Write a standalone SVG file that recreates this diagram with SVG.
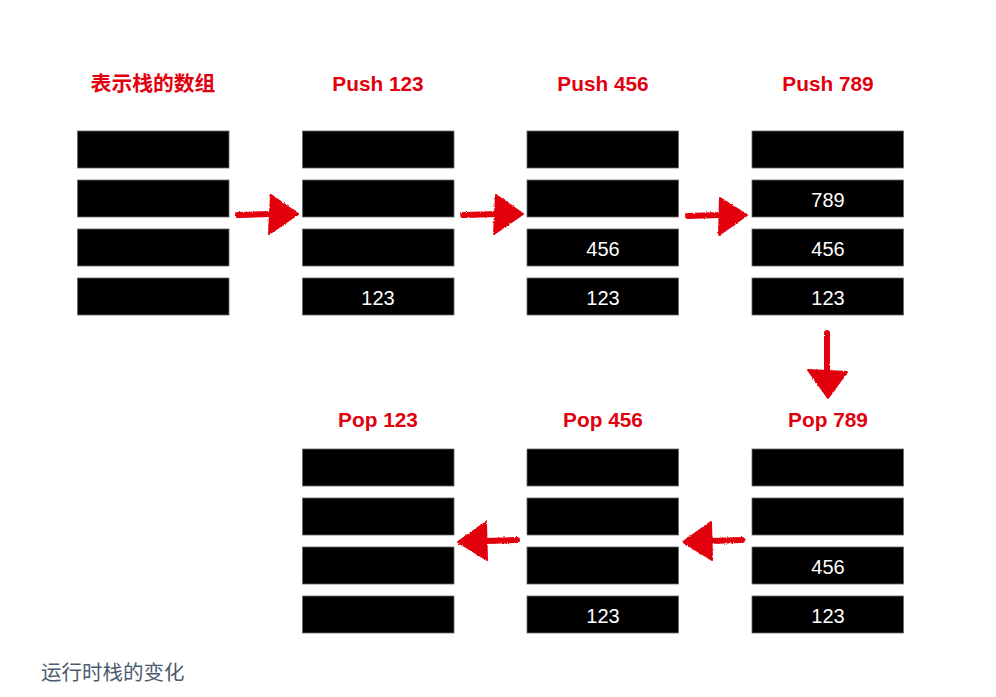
<svg xmlns="http://www.w3.org/2000/svg" width="996" height="697" viewBox="0 0 996 697">
<defs>
<style>
.cell{fill:#000;stroke:#6a6a6a;stroke-width:0.8}
.val{font-family:"Liberation Sans",Arial,sans-serif;font-size:20px;fill:#fff;text-anchor:middle}
.title{font-family:"Liberation Sans","Noto Sans CJK SC",sans-serif;font-size:20.8px;font-weight:bold;fill:#e2000f;text-anchor:middle}
.cap{font-family:"Noto Sans CJK SC","Liberation Sans",sans-serif;font-size:20.5px;fill:#4b5c70}
.arrow{fill:#e2000f;stroke:#e2000f;stroke-linejoin:round}
.shaft{fill:none;stroke:#e2000f;stroke-width:6;stroke-linecap:round}
</style>
<filter id="crayon" x="-20%" y="-20%" width="140%" height="140%">
<feTurbulence type="fractalNoise" baseFrequency="0.9" numOctaves="2" seed="3" result="n"/>
<feDisplacementMap in="SourceGraphic" in2="n" scale="2.5" xChannelSelector="R" yChannelSelector="G"/>
</filter>
</defs>
<rect width="996" height="697" fill="#fff"/>

<g id="stack-array">
<text class="title" x="153" y="91">表示栈的数组</text>
<rect class="cell" x="77.5" y="131" width="151.5" height="37"/>
<rect class="cell" x="77.5" y="180" width="151.5" height="37"/>
<rect class="cell" x="77.5" y="229" width="151.5" height="37"/>
<rect class="cell" x="77.5" y="278" width="151.5" height="37"/>
</g>

<g id="push-123">
<text class="title" x="378" y="91">Push 123</text>
<rect class="cell" x="302.5" y="131" width="151.5" height="37"/>
<rect class="cell" x="302.5" y="180" width="151.5" height="37"/>
<rect class="cell" x="302.5" y="229" width="151.5" height="37"/>
<rect class="cell" x="302.5" y="278" width="151.5" height="37"/>
<text class="val" x="378" y="304.5">123</text>
</g>

<g id="push-456">
<text class="title" x="603" y="91">Push 456</text>
<rect class="cell" x="527" y="131" width="151.5" height="37"/>
<rect class="cell" x="527" y="180" width="151.5" height="37"/>
<rect class="cell" x="527" y="229" width="151.5" height="37"/>
<rect class="cell" x="527" y="278" width="151.5" height="37"/>
<text class="val" x="603" y="255.5">456</text>
<text class="val" x="603" y="304.5">123</text>
</g>

<g id="push-789">
<text class="title" x="828" y="91">Push 789</text>
<rect class="cell" x="752" y="131" width="151.5" height="37"/>
<rect class="cell" x="752" y="180" width="151.5" height="37"/>
<rect class="cell" x="752" y="229" width="151.5" height="37"/>
<rect class="cell" x="752" y="278" width="151.5" height="37"/>
<text class="val" x="828" y="206.5">789</text>
<text class="val" x="828" y="255.5">456</text>
<text class="val" x="828" y="304.5">123</text>
</g>

<g id="pop-789">
<text class="title" x="828" y="427">Pop 789</text>
<rect class="cell" x="752" y="449" width="151.5" height="37"/>
<rect class="cell" x="752" y="498" width="151.5" height="37"/>
<rect class="cell" x="752" y="547" width="151.5" height="37"/>
<rect class="cell" x="752" y="596" width="151.5" height="37"/>
<text class="val" x="828" y="573.5">456</text>
<text class="val" x="828" y="622.5">123</text>
</g>

<g id="pop-456">
<text class="title" x="603" y="427">Pop 456</text>
<rect class="cell" x="527" y="449" width="151.5" height="37"/>
<rect class="cell" x="527" y="498" width="151.5" height="37"/>
<rect class="cell" x="527" y="547" width="151.5" height="37"/>
<rect class="cell" x="527" y="596" width="151.5" height="37"/>
<text class="val" x="603" y="622.5">123</text>
</g>

<g id="pop-123">
<text class="title" x="378" y="427">Pop 123</text>
<rect class="cell" x="302.5" y="449" width="151.5" height="37"/>
<rect class="cell" x="302.5" y="498" width="151.5" height="37"/>
<rect class="cell" x="302.5" y="547" width="151.5" height="37"/>
<rect class="cell" x="302.5" y="596" width="151.5" height="37"/>
</g>

<g id="connectors" filter="url(#crayon)">
<path class="shaft" d="M238 215 L272 214"/>
<path class="arrow" stroke-width="2" d="M271 195 L298 214 L269 234 Z"/>
<path class="shaft" d="M463 215 L497 214"/>
<path class="arrow" stroke-width="2" d="M496 195 L523 214 L494 234 Z"/>
<path class="shaft" d="M688 216 L720 215"/>
<path class="arrow" stroke-width="2" d="M720 198 L747 215 L719 235 Z"/>
<path class="shaft" d="M827 333 L827 372"/>
<path class="arrow" stroke-width="2" d="M808 370 L847 372 L828 398 Z"/>
<path class="shaft" d="M742 540 L710 541"/>
<path class="arrow" stroke-width="2" d="M711 522 L683 542 L712 560 Z"/>
<path class="shaft" d="M517 540 L485 541"/>
<path class="arrow" stroke-width="2" d="M486 522 L458 542 L487 560 Z"/>
</g>

<text class="cap" x="41" y="680">运行时栈的变化</text>
</svg>
